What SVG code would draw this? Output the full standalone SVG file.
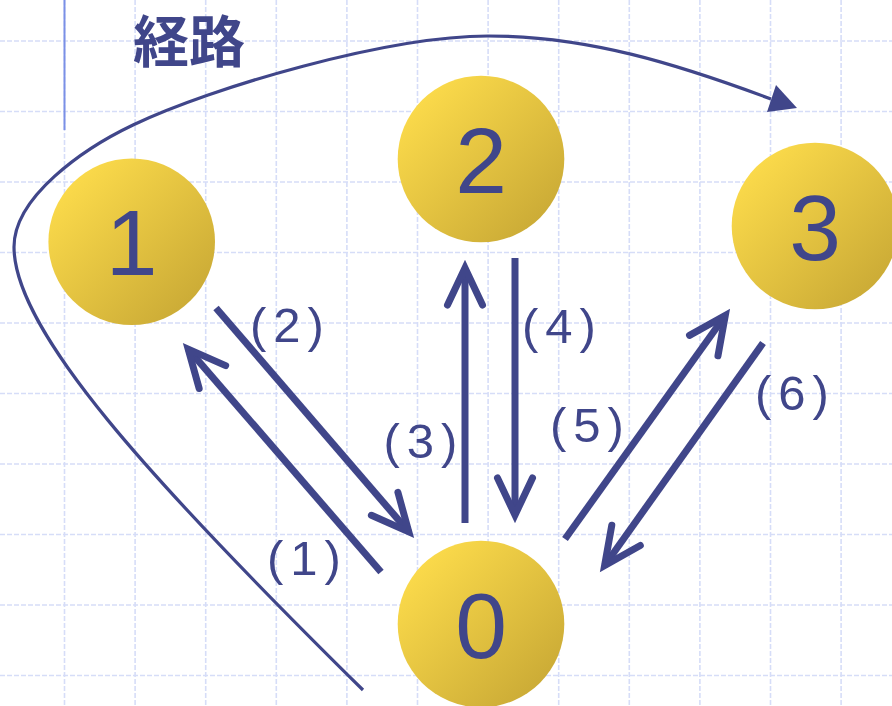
<svg xmlns="http://www.w3.org/2000/svg" width="892" height="706" viewBox="0 0 892 706">
<style>
.grid line{stroke:#d6ddf8;stroke-width:1.6;stroke-dasharray:5 2;fill:none}
.node circle{fill:url(#gold)}
.num{font-family:"Liberation Sans",Arial,sans-serif;font-size:93px;fill:#40468a;text-anchor:middle}
.lbl{font-family:"Liberation Sans",Arial,sans-serif;font-size:49px;fill:#40468a;letter-spacing:7px}
.title{font-family:"Noto Sans CJK JP","Noto Sans CJK SC",sans-serif;font-size:56px;font-weight:700;fill:#40468a}
.shaft{stroke:#40468a;stroke-width:7;fill:none;marker-end:url(#chev)}
.curve{stroke:#40468a;stroke-width:3.2;fill:none}
</style>
<defs>
<linearGradient id="gold" x1="0.15" y1="0.15" x2="0.95" y2="0.95">
<stop offset="0" stop-color="#fad94a"/>
<stop offset="1" stop-color="#c6a634"/>
</linearGradient>
<marker id="chev" markerUnits="userSpaceOnUse" viewBox="-50 -30 60 60" refX="0" refY="0" markerWidth="60" markerHeight="60" orient="auto" overflow="visible">
<path d="M-37,-17.5 L0,0 L-37,17.5" fill="none" stroke="#40468a" stroke-width="7" stroke-linecap="round" stroke-linejoin="miter"/>
</marker>
</defs>
<rect width="892" height="706" fill="#ffffff"/>
<g class="grid">
<line x1="64.5" y1="0" x2="64.5" y2="706"/>
<line x1="135.1" y1="0" x2="135.1" y2="706"/>
<line x1="205.7" y1="0" x2="205.7" y2="706"/>
<line x1="276.3" y1="0" x2="276.3" y2="706"/>
<line x1="346.9" y1="0" x2="346.9" y2="706"/>
<line x1="417.5" y1="0" x2="417.5" y2="706"/>
<line x1="488.1" y1="0" x2="488.1" y2="706"/>
<line x1="558.7" y1="0" x2="558.7" y2="706"/>
<line x1="629.3" y1="0" x2="629.3" y2="706"/>
<line x1="699.9" y1="0" x2="699.9" y2="706"/>
<line x1="770.5" y1="0" x2="770.5" y2="706"/>
<line x1="841.1" y1="0" x2="841.1" y2="706"/>
<line x1="0" y1="41" x2="892" y2="41"/>
<line x1="0" y1="111.5" x2="892" y2="111.5"/>
<line x1="0" y1="182" x2="892" y2="182"/>
<line x1="0" y1="252.5" x2="892" y2="252.5"/>
<line x1="0" y1="323" x2="892" y2="323"/>
<line x1="0" y1="393.5" x2="892" y2="393.5"/>
<line x1="0" y1="464" x2="892" y2="464"/>
<line x1="0" y1="534.5" x2="892" y2="534.5"/>
<line x1="0" y1="605" x2="892" y2="605"/>
<line x1="0" y1="675.5" x2="892" y2="675.5"/>
</g>
<line x1="64.5" y1="0" x2="64.5" y2="130" stroke="#7b90e6" stroke-width="2"/>
<text class="title" x="133" y="62">経路</text>
<g id="node1" class="node"><circle cx="131.7" cy="241.7" r="83.3"/><text class="num" x="131.7" y="275">1</text></g>
<g id="node2" class="node"><circle cx="481" cy="159" r="83.3"/><text class="num" x="481" y="193">2</text></g>
<g id="node3" class="node"><circle cx="815" cy="226" r="83.3"/><text class="num" x="815" y="260">3</text></g>
<g id="node0" class="node"><circle cx="481" cy="624" r="83.3"/><text class="num" x="481" y="658">0</text></g>
<g id="connectors">
<path class="curve" d="M363,690 C148,478 14,330 14,247 C14,197 83,148.8 133,125 C213,86.9 388,36 488,36 C588,36 677.2,64.1 771,99"/>
<polygon points="797,108 776,85 767,112" fill="#40468a"/>
<path id="e1" class="shaft" d="M381,572 L188.2,349.1"/>
<path id="e2" class="shaft" d="M216,308 L408.8,531.9"/>
<path id="e3" class="shaft" d="M465,523 L465,268"/>
<path id="e4" class="shaft" d="M515,258 L515,515"/>
<path id="e5" class="shaft" d="M565,539 L725.3,315.5"/>
<path id="e6" class="shaft" d="M763,343 L604.6,565.5"/>
<text class="lbl" x="267" y="575">(1)</text>
<text class="lbl" x="250" y="342">(2)</text>
<text class="lbl" x="383.5" y="458">(3)</text>
<text class="lbl" x="522" y="343">(4)</text>
<text class="lbl" x="550" y="442">(5)</text>
<text class="lbl" x="755" y="410">(6)</text>
</g>
</svg>
